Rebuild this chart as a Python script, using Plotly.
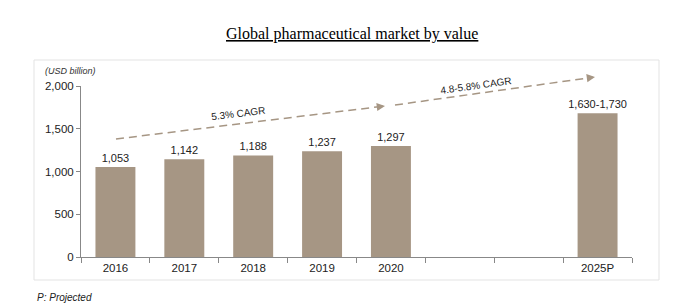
import plotly.graph_objects as go

categories = ["2016", "2017", "2018", "2019", "2020", " ", "  ", "2025P"]
values = [1053, 1142, 1188, 1237, 1297, None, None, 1680]
labels = ["1,053", "1,142", "1,188", "1,237", "1,297", "", "", "1,630-1,730"]
y_ticks = [0, 500, 1000, 1500, 2000]

W, H = 687, 306
L, R, T, B = 81, 55, 86, 49
pw, ph = W - L - R, H - T - B

def px(x):
    return (x - L) / pw

def py(y):
    return (H - B - y) / ph

bar_color = "#A69684"
fig = go.Figure()
fig.add_trace(go.Bar(
    x=categories, y=values, text=labels, textposition="outside",
    constraintext="none",
    textfont=dict(family="Liberation Sans, Arial", size=11, color="#222"),
    marker=dict(color=bar_color, line=dict(width=0)),
    cliponaxis=False, width=0.58,
))

fig.update_layout(
    width=W, height=H, margin=dict(l=L, r=R, t=T, b=B),
    paper_bgcolor="white", plot_bgcolor="white", showlegend=False,
    font=dict(family="Liberation Sans, Arial", size=11, color="#222"),
    xaxis=dict(type="category", categoryorder="array", categoryarray=categories,
               showline=True, linecolor="#888", linewidth=1, ticks="outside",
               tickson="boundaries", ticklen=5, tickcolor="#888", showgrid=False,
               tickfont=dict(size=11.5, color="#222")),
    yaxis=dict(range=[0, 2000], tickvals=y_ticks, tickformat=",", showline=True,
               linecolor="#888", linewidth=1, ticks="outside", ticklen=4,
               tickcolor="#888", showgrid=False, zeroline=False,
               tickfont=dict(size=11.5, color="#222")),
)

# outer box
fig.add_shape(type="rect", xref="paper", yref="paper",
              x0=px(34), x1=px(659), y0=py(280), y1=py(60),
              line=dict(color="#e3e3e3", width=1), layer="below")

# CAGR arrows: dashed shafts + arrow heads (pixel positions)
arrow_color = "#A69684"
for (x0, y0, x1, y1) in [(116, 139, 385, 106), (395, 105, 595, 77)]:
    dx, dy = x1 - x0, y1 - y0
    n = (dx * dx + dy * dy) ** 0.5
    ux, uy = dx / n, dy / n
    fig.add_shape(type="line", xref="paper", yref="paper",
                  x0=px(x0), y0=py(y0), x1=px(x1 - 6 * ux), y1=py(y1 - 6 * uy),
                  line=dict(color=arrow_color, width=1.5, dash="8px,5px"))
    fig.add_annotation(x=px(x1), y=py(y1), xref="paper", yref="paper",
                       ax=-8 * ux, ay=-8 * uy, showarrow=True, arrowhead=2,
                       arrowsize=1.1, arrowwidth=1.5, arrowcolor=arrow_color, text="")

def label(x, y, text, size, angle=0, xanchor="center", family=None, color="#222"):
    f = dict(size=size, color=color)
    if family:
        f["family"] = family
    fig.add_annotation(x=px(x), y=py(y), xref="paper", yref="paper", text=text,
                       showarrow=False, textangle=angle, xanchor=xanchor,
                       yanchor="middle", font=f)

label(238, 113, "5.3% CAGR", 10, angle=-7)
label(476, 85, "4.8-5.8% CAGR", 10, angle=-8)
label(43, 71, "<i>(USD billion)</i>", 9, xanchor="left", color="#333")
label(35, 297, "<i>P: Projected</i>", 10, xanchor="left")
label(352, 34, "<u>Global pharmaceutical market by value</u>", 16,
      family="Liberation Serif, Times New Roman", color="#000")

fig.write_html("out.html")
